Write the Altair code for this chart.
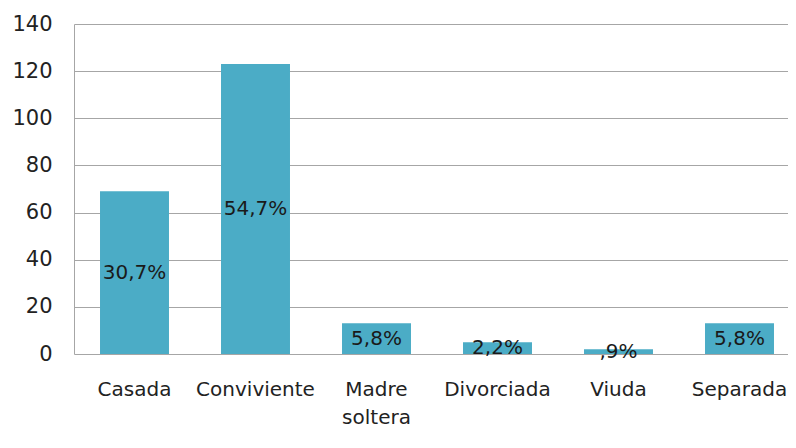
import altair as alt
import pandas as pd

categories = ["Casada", "Conviviente", "Madre soltera", "Divorciada", "Viuda", "Separada"]
counts = [69, 123, 13, 5, 2, 13]
pct_labels = ["30,7%", "54,7%", "5,8%", "2,2%", ",9%", "5,8%"]

df = pd.DataFrame({"cat": categories, "n": counts, "pct": pct_labels})
df["mid"] = df["n"] / 2

FONT = "DejaVu Sans"
x = alt.X("cat:N", sort=categories, title=None,
          scale=alt.Scale(range=[0, 726], paddingInner=0.43, paddingOuter=0.215),
          axis=alt.Axis(labelAngle=0, domain=False, ticks=False, tickSize=0,
                        labelPadding=25, labelFont=FONT, labelFontSize=20,
                        labelColor="#222222", labelExpr="split(datum.label, ' ')",
                        labelLineHeight=28, labelBaseline="top"))

bars = alt.Chart(df).mark_bar(color="#4BACC6").encode(
    x=x,
    y=alt.Y("n:Q", title=None,
            scale=alt.Scale(domain=[0, 140], nice=False),
            axis=alt.Axis(values=list(range(0, 141, 20)), grid=True, gridColor="#a6a6a6",
                          domainColor="#a6a6a6", ticks=False, tickSize=0, labelPadding=22,
                          labelFont=FONT, labelFontSize=21, labelColor="#222222")),
)

text = alt.Chart(df).mark_text(font=FONT, fontSize=20, color="#1a1a1a", baseline="middle").encode(
    x=alt.X("cat:N", sort=categories),
    y=alt.Y("mid:Q"),
    text="pct:N",
)

chart = (bars + text).properties(
    width=714, height=330,
    autosize=alt.AutoSizeParams(type="none"),
    padding={"left": 66, "top": 16, "right": 0, "bottom": 86},
).configure_view(stroke=None).configure_axisY(gridWidth=1)

chart.save("out.html", embed_options={"renderer": "svg", "actions": False})
